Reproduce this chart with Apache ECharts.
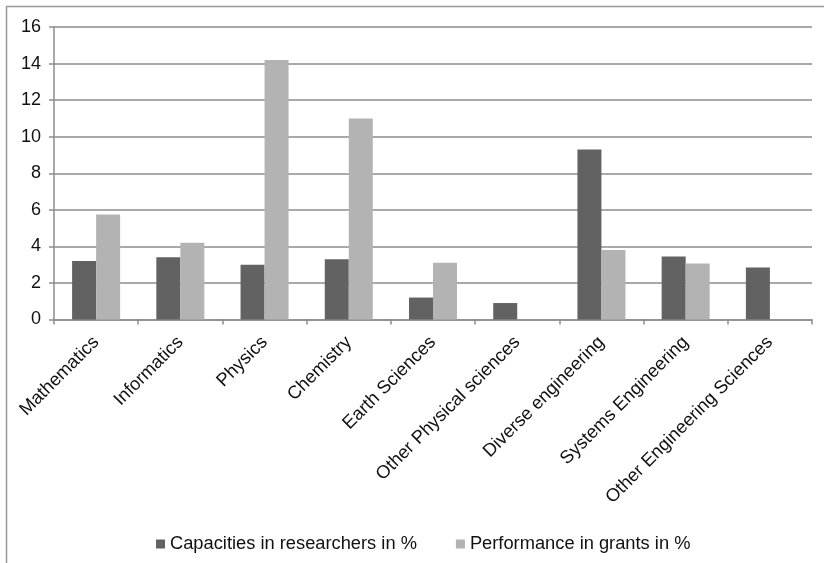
<!DOCTYPE html>
<html>
<head>
<meta charset="utf-8">
<script src="https://cdn.jsdelivr.net/npm/echarts@6/dist/echarts.min.js"></script>
<style>
  html, body { margin: 0; padding: 0; background: #fff; }
  #chart { width: 824px; height: 563px; }
</style>
</head>
<body>
<div id="chart"></div>
<script>
// Research fields on the category axis
const categories = [
  'Mathematics', 'Informatics', 'Physics', 'Chemistry', 'Earth Sciences',
  'Other Physical sciences', 'Diverse engineering', 'Systems Engineering',
  'Other Engineering Sciences'
];

// Share of researchers per field (%)
const capacities = [3.2, 3.4, 3.0, 3.3, 1.2, 0.9, 9.3, 3.45, 2.85];

// Share of grants per field (%)
const performance = [5.75, 4.2, 14.2, 11.0, 3.1, null, 3.8, 3.07, null];

const seriesNames = ['Capacities in researchers in %', 'Performance in grants in %'];

const font = 'Liberation Sans, Arial, sans-serif';
const gridColor = '#8c8c8c';

const chart = echarts.init(document.getElementById('chart'), null, { renderer: 'canvas' });

chart.setOption({
  backgroundColor: '#ffffff',
  animation: false,
  textStyle: { fontFamily: font },
  graphic: [{
    type: 'polyline',
    shape: { points: [[6.5, 570], [6.5, 6.5], [830, 6.5]] },
    style: { stroke: '#999999', lineWidth: 1.5, fill: null },
    silent: true
  }],
  grid: { left: 54, right: 12, top: 27, bottom: 243.5, containLabel: false },
  legend: {
    data: seriesNames,
    left: 151,
    top: 530,
    itemWidth: 9,
    itemHeight: 9,
    itemGap: 39,
    icon: 'rect',
    textStyle: { fontFamily: font, fontSize: 18.3, color: '#111' }
  },
  xAxis: {
    type: 'category',
    data: categories,
    axisLine: { lineStyle: { color: gridColor, width: 1.5 } },
    axisTick: { show: true, length: 5, lineStyle: { color: gridColor, width: 1.5 } },
    axisLabel: {
      interval: 0,
      rotate: 45,
      margin: 20,
      fontFamily: font,
      fontSize: 18.3,
      color: '#111'
    }
  },
  yAxis: {
    type: 'value',
    min: 0,
    max: 16,
    interval: 2,
    axisLine: { show: true, lineStyle: { color: gridColor, width: 1.5 } },
    axisTick: { show: true, length: 5, lineStyle: { color: gridColor, width: 1.5 } },
    axisLabel: { margin: 13, fontFamily: font, fontSize: 18, color: '#111' },
    splitLine: { show: true, lineStyle: { color: gridColor, width: 1.5 } }
  },
  series: [
    {
      name: seriesNames[0],
      type: 'bar',
      data: capacities,
      barGap: '0%',
      barCategoryGap: '43%',
      itemStyle: { color: '#626262' }
    },
    {
      name: seriesNames[1],
      type: 'bar',
      data: performance,
      barCategoryGap: '43%',
      itemStyle: { color: '#b3b3b3' }
    }
  ]
});
</script>
</body>
</html>
